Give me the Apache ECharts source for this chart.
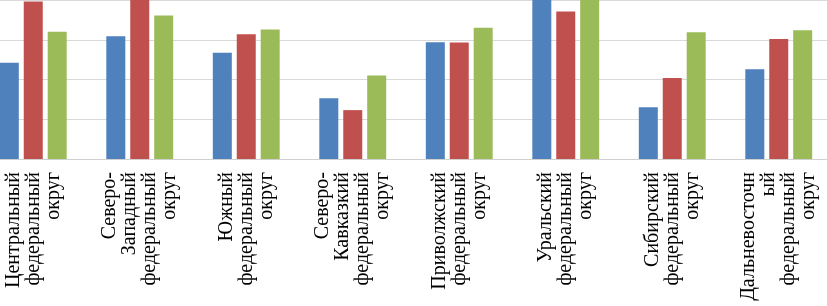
<!DOCTYPE html>
<html>
<head>
<meta charset="utf-8">
<script src="https://cdn.jsdelivr.net/npm/echarts@6/dist/echarts.min.js"></script>
<style>
  html, body { margin: 0; padding: 0; background: #fff; overflow: hidden; }
  #wrap { width: 827px; height: 306px; position: relative; overflow: hidden; }
  /* the source picture is cropped on the left, so the chart starts off-screen */
  #chart { width: 852px; height: 306px; position: absolute; left: -20px; top: 0; }
</style>
</head>
<body>
<div id="wrap"><div id="chart"></div></div>
<script>
// category labels (explicit line breaks as in the source)
const districts = [
    'Центральный\nфедеральный\nокруг',
    'Северо-\nЗападный\nфедеральный\nокруг',
    'Южный\nфедеральный\nокруг',
    'Северо-\nКавказкий\nфедеральный\nокруг',
    'Приволжский\nфедеральный\nокруг',
    'Уральский\nфедеральный\nокруг',
    'Сибирский\nфедеральный\nокруг',
    'Дальневосточн\nый\nфедеральный\nокруг'
];

// three series, values (gridline step = 1)
const seriesBlue = [2.42, 3.09, 2.67, 1.53, 2.94, 4.2, 1.30, 2.26];
const seriesRed = [3.96, 4.2, 3.14, 1.23, 2.93, 3.71, 2.04, 3.02];
const seriesGreen = [3.20, 3.61, 3.26, 2.10, 3.30, 4.2, 3.19, 3.24];

const colors = ['#4F81BD', '#C0504D', '#9BBB59'];

const chart = echarts.init(document.getElementById('chart'));

function makeBar(name, data, color) {
    return {
        name: name,
        type: 'bar',
        data: data,
        barWidth: 19,
        barGap: '26%',
        itemStyle: { color: color }
    };
}

chart.setOption({
    animation: false,
    backgroundColor: '#ffffff',
    grid: {
        left: 0,
        right: 0,
        top: 0,
        bottom: 147
    },
    xAxis: {
        type: 'category',
        data: districts,
        axisLine: { lineStyle: { color: '#d0d0d0', width: 1 } },
        axisTick: { show: false },
        axisLabel: {
            interval: 0,
            rotate: 90,
            margin: 13,
            fontFamily: 'Liberation Serif',
            fontSize: 20,
            color: '#000'
        }
    },
    yAxis: {
        type: 'value',
        min: 0,
        max: 4,
        interval: 1,
        axisLine: { show: false },
        axisTick: { show: false },
        axisLabel: { show: false },
        splitLine: { lineStyle: { color: '#d9d9d9', width: 1 } }
    },
    series: [
        makeBar('s1', seriesBlue, colors[0]),
        makeBar('s2', seriesRed, colors[1]),
        makeBar('s3', seriesGreen, colors[2])
    ]
});
</script>
</body>
</html>
